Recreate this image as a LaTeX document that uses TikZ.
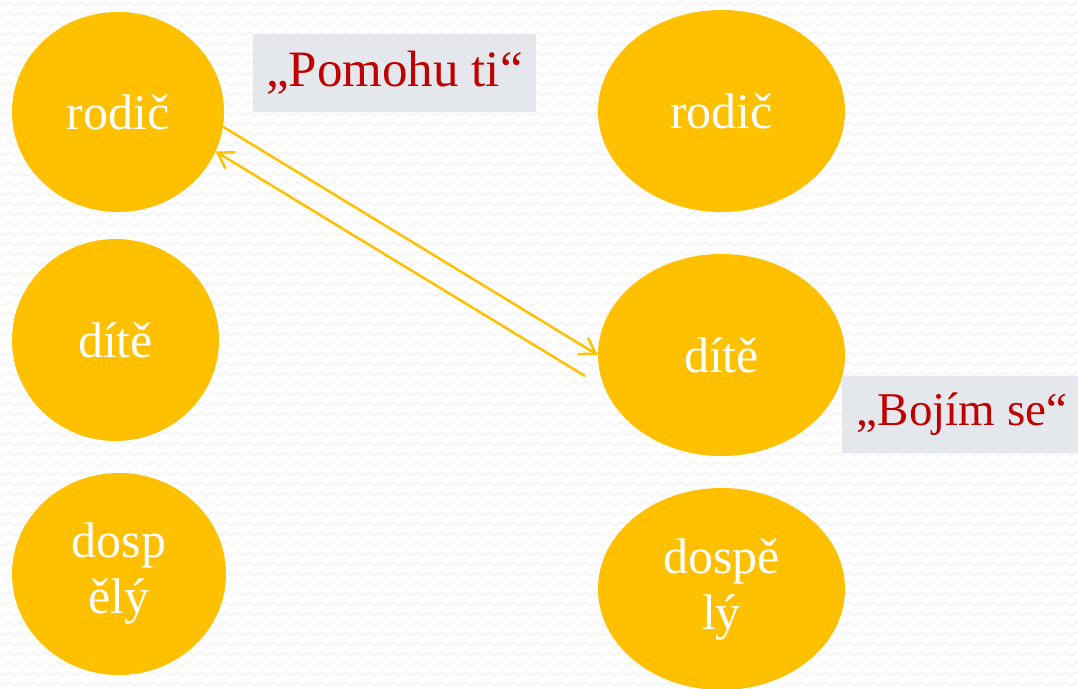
\documentclass[tikz,border=0pt]{standalone}
\usepackage{fontspec}
\setmainfont{Liberation Serif}
\usetikzlibrary{arrows.meta,shapes.geometric,decorations.pathmorphing}
\definecolor{bubble}{HTML}{FFC000}
\definecolor{labelbg}{HTML}{E4E8EC}
\definecolor{labelred}{HTML}{C00000}
\definecolor{bgwave}{HTML}{F2F2F2}
\tikzset{
  bubble/.style={ellipse, fill=bubble, draw=none, inner sep=0pt,
    text=white, align=center, font=\fontsize{50}{56}\selectfont},
  quote/.style={fill=labelbg, draw=none, inner sep=0pt, text=labelred,
    font=\fontsize{51}{56}\selectfont},
  link/.style={draw=bubble, line width=2.5pt,
    -{Straight Barb[length=15pt,width=19pt,line width=2.5pt]}}
}
\begin{document}
\begin{tikzpicture}[x=1pt,y=-1pt]
\useasboundingbox (0,0) rectangle (1078,688);
\fill[white] (0,0) rectangle (1078,688);
\begin{scope}
\clip (0,0) rectangle (1078,688);
\foreach \yy in {4,14,...,694}{
  \draw[bgwave, line width=1.2pt, decorate,
    decoration={zigzag, segment length=12pt, amplitude=2pt}]
    (-6,\yy) -- (1090,\yy);
}
\end{scope}
% left column
\node[bubble, minimum width=212pt, minimum height=200pt] (r1) at (118,112) {rodič};
\node[bubble, minimum width=207pt, minimum height=202pt] (d1) at (115.5,340) {dítě};
\node[bubble, minimum width=214pt, minimum height=202pt] (a1) at (119,574) {dosp\\ělý};
% right column
\node[bubble, minimum width=247pt, minimum height=202pt] (r2) at (721.5,111) {rodič};
\node[bubble, minimum width=247pt, minimum height=202pt] (d2) at (721.5,355) {dítě};
\node[bubble, minimum width=247pt, minimum height=202pt] (a2) at (721.5,589) {dospě\\lý};
% labels
\node[quote, minimum width=283pt, minimum height=78pt] (q1) at (394.5,73) {„Pomohu ti“};
\node[quote, minimum width=240pt, minimum height=77pt, font=\fontsize{47}{56}\selectfont] (q2) at (962,414.5) {„Bojím se“};
% connectors
\coordinate (c2) at (585,376);
\draw[link] (r1.-8) -- (d2.west);
\draw[link] (c2) -- (r1.-22);
\end{tikzpicture}
\end{document}
